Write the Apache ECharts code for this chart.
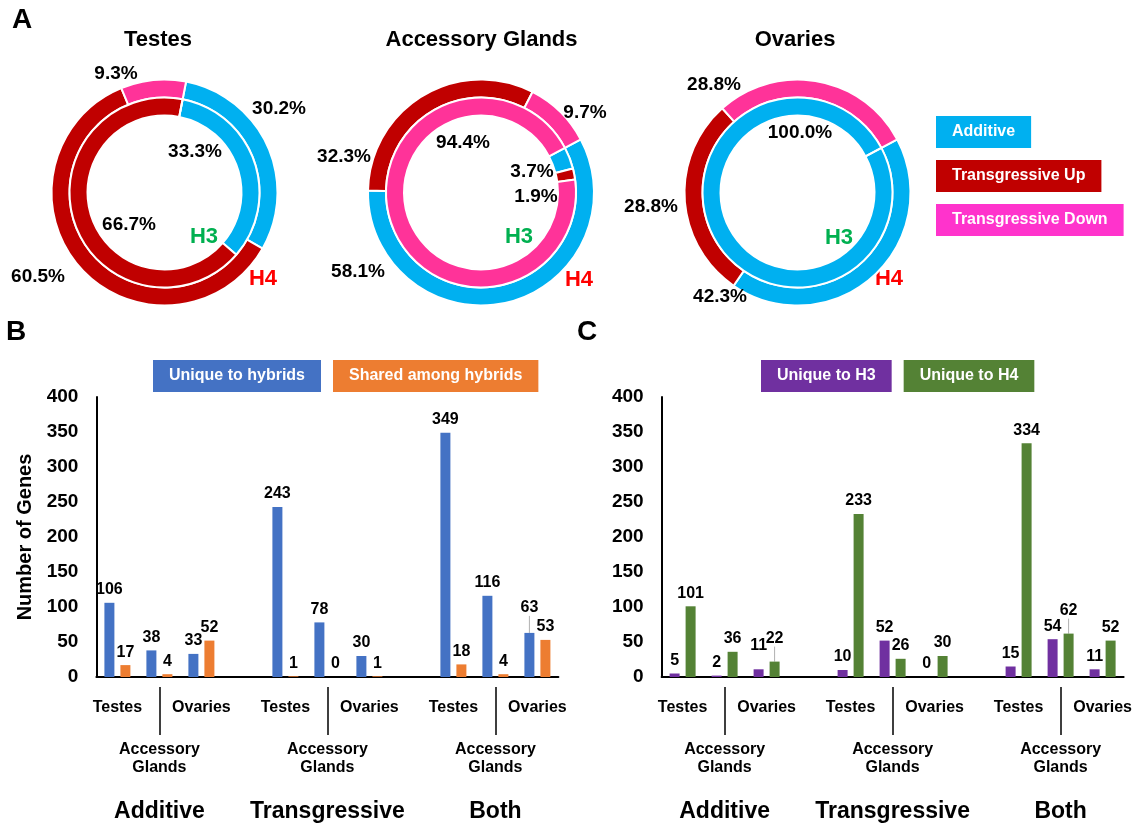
<!DOCTYPE html>
<html>
<head>
<meta charset="utf-8">
<script src="https://cdn.jsdelivr.net/npm/echarts@6/dist/echarts.min.js"></script>
<style>
  html, body { margin: 0; padding: 0; background: #fff; }
  #chart { width: 1147px; height: 828px; }
</style>
</head>
<body>
<div id="chart"></div>
<script>
// ---- Panel A: share of genes (%) per inheritance class, outer ring H4, inner ring H3
const ringClasses = ['Additive', 'Transgressive Up', 'Transgressive Down'];
const testesH4 = [30.2, 60.5, 9.3];
const testesH3 = [33.3, 66.7, 0];
const glandsH4 = [58.1, 32.3, 9.7];
const glandsH3 = [3.7, 1.9, 94.4];
const ovariesH4 = [42.3, 28.8, 28.8];
const ovariesH3 = [100.0, 0, 0];

// ---- Panels B and C: gene counts (order: Testes, Accessory Glands, Ovaries per mode)
const tissues = ['Testes', 'Accessory Glands', 'Ovaries'];
const modes = ['Additive', 'Transgressive', 'Both'];
const uniqueToHybrids = [106, 38, 33, 243, 78, 30, 349, 116, 63];
const sharedAmongHybrids = [17, 4, 52, 1, 0, 1, 18, 4, 53];
const uniqueToH3 = [5, 2, 11, 10, 52, 0, 15, 54, 11];
const uniqueToH4 = [101, 36, 22, 233, 26, 30, 334, 62, 52];

const FONT = '"Liberation Sans", Arial, sans-serif';
const ringColors = ['#00B0F0', '#C00000', '#FF3399'];

// category slots: three tissues per mode, with an empty slot between modes
const slots = [];
modes.forEach((m, gi) => {
  tissues.forEach(t => slots.push(t));
  if (gi < modes.length - 1) slots.push('');
});
function spaced(values) {
  const out = [];
  values.forEach((v, i) => {
    out.push(v);
    if (i % 3 === 2 && i < values.length - 1) out.push(null);
  });
  return out;
}

// label anchor points for each ring (page pixels)
const spots = {
  testesH4: [[279, 109], [38, 277], [116, 74]],
  testesH3: [[195, 152], [129, 225], [0, 0]],
  glandsH4: [[358, 272], [344, 157], [585, 113]],
  glandsH3: [[532, 172], [536, 197], [463, 143]],
  ovariesH4: [[720, 297], [651, 207], [714, 85]],
  ovariesH3: [[800, 133], [0, 0], [0, 0]]
};

function ring(name, center, radius, startAngle, values, pts) {
  return {
    type: 'pie', name, center, radius, startAngle, clockwise: true,
    avoidLabelOverlap: false, silent: true, animation: false,
    emphasis: { disabled: true },
    itemStyle: { borderColor: '#fff', borderWidth: 2 },
    label: {
      show: true, position: 'inside', color: '#000',
      fontFamily: FONT, fontSize: 19, fontWeight: 'bold',
      formatter: p => (p.value ? p.value.toFixed(1) + '%' : '')
    },
    labelLine: { show: false },
    labelLayout: p => ({ x: pts[p.dataIndex][0], y: pts[p.dataIndex][1], align: 'center', verticalAlign: 'middle' }),
    data: values.map((v, i) => ({ name: ringClasses[i], value: v, itemStyle: { color: ringColors[i] } }))
  };
}

const outerR = [95, 113];
const innerR = [77, 95];
const cy = 192.5;

function xLabelFormatter(v, i) {
  const pos = i % 4;
  if (pos === 0 || pos === 2) return v;
  if (pos === 1) {
    return '{gap| }\n' + v.split(' ').join('\n') + '\n{gap2| }\n{grp|' + modes[Math.floor(i / 4)] + '}';
  }
  return '';
}

function labelAxis(gridIndex) {
  return {
    type: 'category', gridIndex, data: slots,
    axisLine: { show: true, lineStyle: { color: '#000', width: 2 } },
    axisTick: { show: false },
    splitLine: { show: false },
    axisLabel: {
      interval: 0, margin: 22, color: '#000', fontFamily: FONT, fontSize: 16,
      fontWeight: 'bold', lineHeight: 18, formatter: xLabelFormatter,
      rich: {
        gap: { lineHeight: 42, fontSize: 16 },
        gap2: { lineHeight: 22, fontSize: 16 },
        grp: { fontSize: 23, lineHeight: 26, fontWeight: 'bold', color: '#000', fontFamily: FONT }
      }
    }
  };
}
function dividerAxis(gridIndex) {
  return {
    type: 'category', gridIndex, data: slots, position: 'bottom', offset: 10,
    axisLine: { show: false },
    axisLabel: { show: false },
    splitLine: { show: false },
    axisTick: {
      show: true, alignWithLabel: true, length: 48,
      interval: (idx) => idx % 4 === 1,
      lineStyle: { color: '#000', width: 1.5 }
    }
  };
}
function countAxis(gridIndex, withName) {
  const ax = {
    type: 'value', gridIndex, min: 0, max: 400, interval: 50,
    axisLine: { show: true, lineStyle: { color: '#000', width: 2 } },
    axisTick: { show: false },
    splitLine: { show: false },
    axisLabel: { color: '#000', fontFamily: FONT, fontSize: 19, fontWeight: 'bold', margin: 18 }
  };
  if (withName) {
    Object.assign(ax, {
      name: 'Number of Genes', nameLocation: 'middle', nameRotate: 90, nameGap: 61,
      nameTextStyle: { color: '#000', fontFamily: FONT, fontSize: 20, fontWeight: 'bold' }
    });
  }
  return ax;
}

const valueLabel = {
  show: true, position: 'top', distance: 5, color: '#000',
  fontFamily: FONT, fontSize: 16, fontWeight: 'bold'
};

// data items whose value label is lifted, optionally with a leader line
function barData(values, lifted, withLine) {
  return spaced(values).map((v, i) => {
    if (v !== null && lifted.indexOf(i) >= 0 && withLine) {
      return { value: v, labelLine: { show: true, lineStyle: { color: '#b0b0b0', width: 1 } } };
    }
    return v;
  });
}
function bar(name, values, color, xi, yi, lifts, withLine) {
  const liftIdx = Object.keys(lifts).map(Number);
  return {
    type: 'bar', name, xAxisIndex: xi, yAxisIndex: yi,
    data: barData(values, liftIdx, withLine),
    barWidth: 10, barGap: '60%', animation: false, silent: true,
    itemStyle: { color },
    label: valueLabel,
    labelLine: { show: false },
    labelLayout: p => (lifts[p.dataIndex] !== undefined ? { dy: lifts[p.dataIndex] } : {})
  };
}

function legendBox(name, color) {
  return { name, icon: 'none', textStyle: { backgroundColor: color } };
}
const legendText = {
  color: '#fff', fontFamily: FONT, fontSize: 16, fontWeight: 'bold', padding: [8, 16, 8, 16]
};

function txt(text, x, y, size, fill) {
  return {
    type: 'text', x, y, silent: true,
    style: { text, fill: fill || '#000', font: 'bold ' + size + 'px ' + FONT, align: 'center', verticalAlign: 'middle' }
  };
}

const option = {
  backgroundColor: '#fff',
  animation: false,
  graphic: [
    txt('A', 22, 20, 28), txt('B', 16, 332, 28), txt('C', 587, 332, 28),
    txt('Testes', 158, 40, 22), txt('Accessory Glands', 481.5, 40, 22), txt('Ovaries', 795, 40, 22),
    txt('H3', 204, 237, 22, '#00B050'), txt('H4', 263, 279, 22, '#FF0000'),
    txt('H3', 519, 237, 22, '#00B050'), txt('H4', 579, 280, 22, '#FF0000'),
    txt('H3', 839, 238, 22, '#00B050'), txt('H4', 889, 279, 22, '#FF0000')
  ],
  legend: [
    {
      orient: 'vertical', left: 931, top: 116, padding: 0, itemGap: 12, itemWidth: 0, itemHeight: 0,
      selectedMode: false, textStyle: legendText,
      data: [legendBox('Additive', '#00B0F0'), legendBox('Transgressive Up', '#C00000'),
             legendBox('Transgressive Down', '#FF33CC')]
    },
    {
      orient: 'horizontal', left: 148, top: 360, padding: 0, itemGap: 7, itemWidth: 0, itemHeight: 0,
      selectedMode: false, textStyle: legendText,
      data: [legendBox('Unique to hybrids', '#4472C4'), legendBox('Shared among hybrids', '#ED7D31')]
    },
    {
      orient: 'horizontal', left: 756, top: 360, padding: 0, itemGap: 7, itemWidth: 0, itemHeight: 0,
      selectedMode: false, textStyle: legendText,
      data: [legendBox('Unique to H3', '#7030A0'), legendBox('Unique to H4', '#548235')]
    }
  ],
  grid: [
    { left: 96.4, top: 397, width: 462, height: 280, outerBoundsMode: 'none' },
    { left: 661.6, top: 397, width: 462, height: 280, outerBoundsMode: 'none' }
  ],
  xAxis: [labelAxis(0), dividerAxis(0), labelAxis(1), dividerAxis(1)],
  yAxis: [countAxis(0, true), countAxis(1, false)],
  series: [
    ring('Testes H4', [164.5, cy], outerR, 79, testesH4, spots.testesH4),
    ring('Testes H3', [164.5, cy], innerR, 79, testesH3, spots.testesH3),
    ring('Accessory Glands H4', [481, cy], outerR, 28, glandsH4, spots.glandsH4),
    ring('Accessory Glands H3', [481, cy], innerR, 28, glandsH3, spots.glandsH3),
    ring('Ovaries H4', [797.5, cy], outerR, 28, ovariesH4, spots.ovariesH4),
    ring('Ovaries H3', [797.5, cy], innerR, 28, ovariesH3, spots.ovariesH3),
    bar('Unique to hybrids', uniqueToHybrids, '#4472C4', 0, 0, { 10: -12 }, true),
    bar('Shared among hybrids', sharedAmongHybrids, '#ED7D31', 0, 0, {}, false),
    bar('Unique to H3', uniqueToH3, '#7030A0', 2, 1, { 2: -11 }, false),
    bar('Unique to H4', uniqueToH4, '#548235', 2, 1, { 2: -10, 9: -10 }, true)
  ]
};

const chart = echarts.init(document.getElementById('chart'), null, { renderer: 'canvas' });
chart.setOption(option);
</script>
</body>
</html>
